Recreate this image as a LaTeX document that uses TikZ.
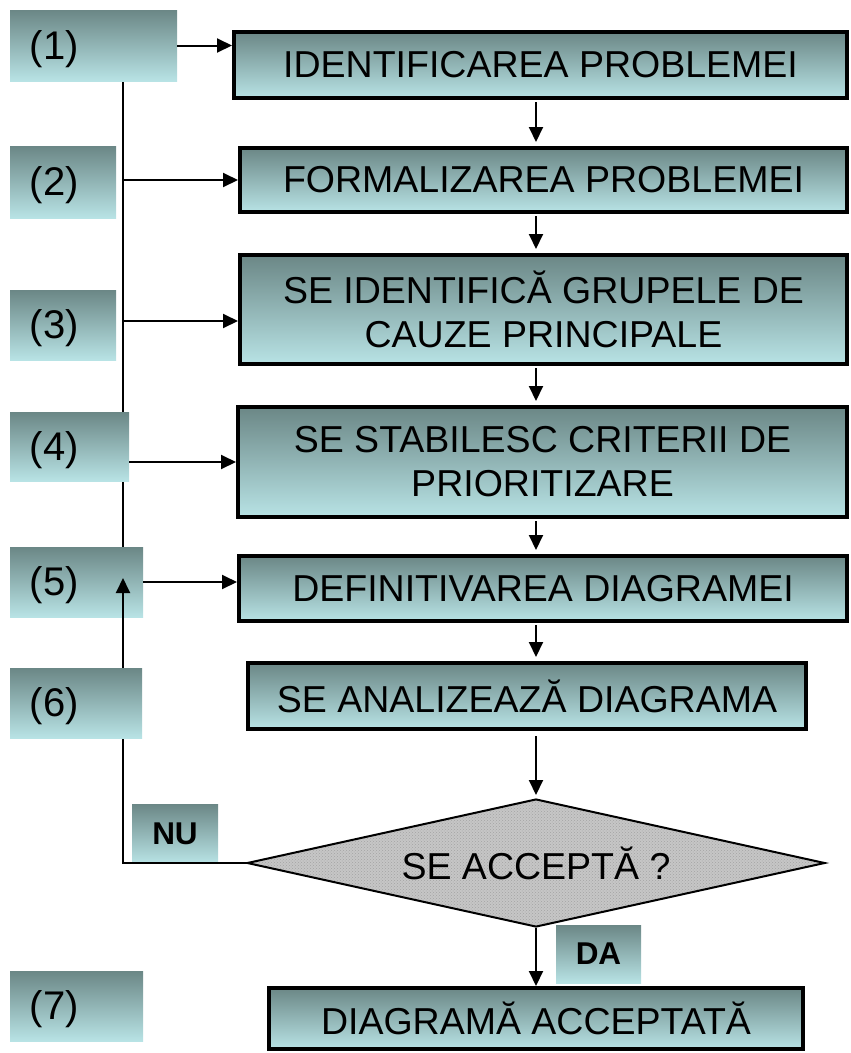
\documentclass[tikz,border=0pt]{standalone}
\usepackage{fontspec}
\setmainfont{Liberation Sans}
\usetikzlibrary{shapes.geometric,arrows.meta,patterns}
\definecolor{gtop}{HTML}{6B8786}
\definecolor{gbot}{HTML}{B8E3E5}
\pgfdeclarelayer{bg}
\pgfdeclarelayer{fg}
\pgfsetlayers{bg,main,fg}
\begin{document}
\begin{tikzpicture}[x=1pt,y=-1pt,
  grad/.style={top color=gtop,bottom color=gbot},
  mbox/.style={grad,draw=black,line width=4pt,inner sep=0pt,align=center,
    font=\fontsize{37.5}{44}\selectfont},
  lab/.style={grad,inner xsep=20pt,inner ysep=0pt,align=left,
    text height=35pt,text depth=8pt,
    font=\fontsize{40}{46}\selectfont},
  yn/.style={grad,inner sep=0pt,font=\bfseries\fontsize{31.5}{36}\selectfont},
  dia/.style={diamond,draw=black,line width=2pt,minimum width=578pt,minimum height=128pt,
    inner sep=0pt,aspect=4.5,preaction={fill=gray!45},pattern=crosshatch dots,
    pattern color=gray!72,font=\fontsize{37.5}{44}\selectfont},
  conn/.style={line width=2pt},
  arr/.style={line width=2pt,-{Triangle[length=15pt,width=14pt]}}]
\useasboundingbox (0,0) rectangle (851,1053);
% main boxes
\node[mbox,minimum width=613pt,minimum height=66pt] (B1) at (540.5,65) {IDENTIFICAREA PROBLEMEI};
\node[mbox,minimum width=607pt,minimum height=64pt] (B2) at (543.5,180) {FORMALIZAREA PROBLEMEI};
\node[mbox,minimum width=607pt,minimum height=109pt] (B3) at (543.5,309.5) {SE IDENTIFICĂ GRUPELE DE\\CAUZE PRINCIPALE};
\node[mbox,minimum width=609pt,minimum height=110pt] (B4) at (542.5,462) {SE STABILESC CRITERII DE\\PRIORITIZARE};
\node[mbox,minimum width=608pt,minimum height=65pt] (B5) at (543,588.5) {DEFINITIVAREA DIAGRAMEI};
\node[mbox,minimum width=558pt,minimum height=66pt] (B6) at (527,696) {SE ANALIZEAZĂ DIAGRAMA};
\node[dia] (D) at (536,863) {SE ACCEPTĂ ?};
\node[mbox,minimum width=534pt,minimum height=61pt] (B7) at (536,1018.5) {DIAGRAMĂ ACCEPTATĂ};
% step labels
\node[lab,text width=127pt,minimum height=71pt] (L1) at (93.5,45.5) {(1)};
\node[lab,text width=66pt,minimum height=72pt] (L2) at (63,182) {(2)};
\node[lab,text width=66pt,minimum height=70pt] (L3) at (63,325) {(3)};
\node[lab,text width=79pt,minimum height=69pt] (L4) at (69.5,446.5) {(4)};
\node[lab,text width=93pt,minimum height=70pt] (L5) at (76.5,582) {(5)};
\node[yn,minimum width=86pt,minimum height=59pt] (NU) at (175,833.5) {NU};
\node[yn,minimum width=85pt,minimum height=58pt] (DA) at (598.5,954) {DA};
% helper coordinates
\coordinate (tx) at (123,0);
\coordinate (up) at (123,578);
\coordinate (j2) at (123,180);
\coordinate (j3) at (123,321);
\coordinate (j4) at (129,462);
% trunk behind the labels
\begin{pgfonlayer}{bg}
\draw[conn] (L1.south -| tx) -- (L5.north -| tx);
\end{pgfonlayer}
% branches to the steps
\draw[arr] (L1.east) -- (L1.east -| B1.west);
\draw[arr] (j2) -- (j2 -| B2.west);
\draw[arr] (j3) -- (j3 -| B3.west);
\draw[arr] (j4) -- (j4 -| B4.west);
\draw[arr] (L5.east) -- (L5.east -| B5.west);
% flow down
\foreach \a/\b in {B1/B2,B2/B3,B3/B4,B4/B5,B5/B6}
  \draw[arr,shorten <=2pt,shorten >=4pt] (\a.south -| D.north) -- (\b.north -| D.north);
\draw[arr,shorten <=5pt,shorten >=3pt] (B6.south -| D.north) -- (D.north);
\draw[arr] (D.south) -- (B7.north -| D.south);
% NU loop
\draw[arr] (D.west) -- (D.west -| tx) -- (up);
\begin{pgfonlayer}{fg}
\node[lab,text width=92pt,minimum height=70pt] (L6) at (76,703) {(6)};
\node[lab,text width=93pt,minimum height=70pt] (L7) at (76.5,1006) {(7)};
\end{pgfonlayer}
\end{tikzpicture}
\end{document}
